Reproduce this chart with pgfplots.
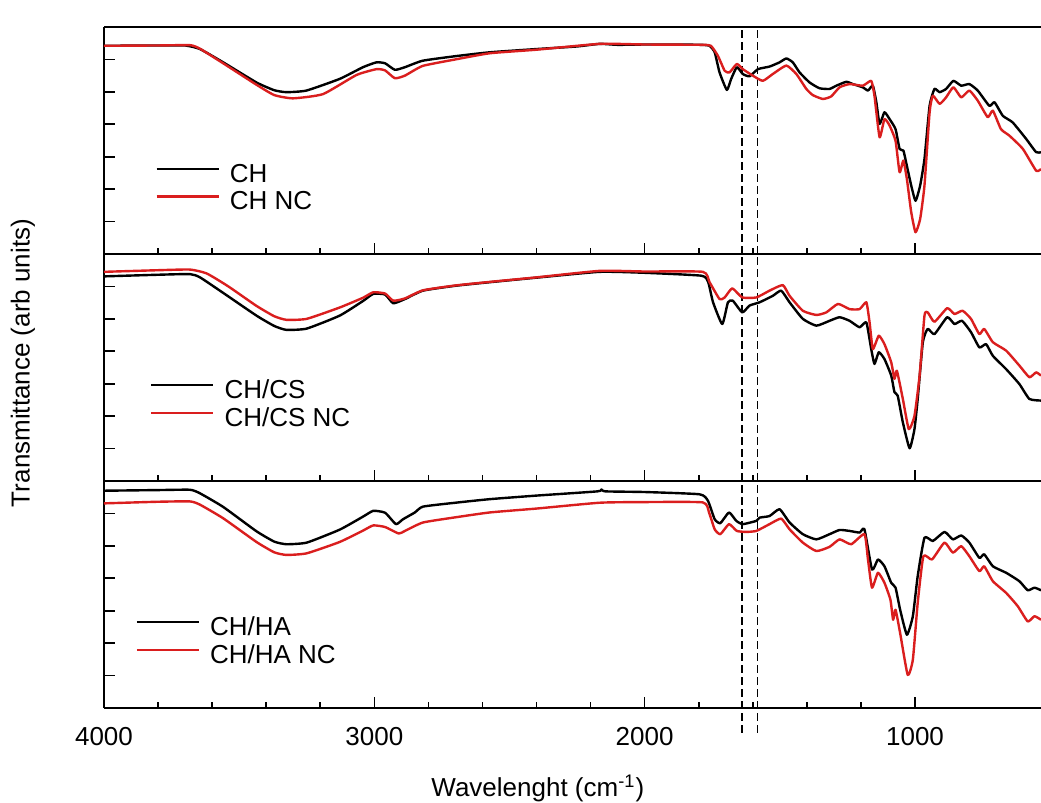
\documentclass[border=0pt]{standalone}
\usepackage{fontspec}
\setmainfont{Liberation Sans}
\usepackage{pgfplots}
\pgfplotsset{compat=1.18}
\definecolor{myred}{RGB}{218,30,30}
\newcommand{\fs}{\fontsize{13}{15.6}\selectfont}
\pgfplotsset{
  panel/.style={
    scale only axis, width=468.5pt, height=113.5pt,
    xmin=534, xmax=4000, x dir=reverse, ymin=0, ymax=7,
    axis y line*=left,
    y axis line style={-, line width=1pt},
    axis line style={line width=1pt},
    xtick={1000,2000,3000,4000}, minor x tick num=4,
    xtick pos=bottom, ytick pos=left,
    ytick={1,2,3,4,5,6}, yticklabels={},
    tick align=inside,
    major tick length=5.5pt, minor tick length=3pt,
    every tick/.style={black, line width=0.8pt},
    tick label style={font=\fs},
    /pgf/number format/assume math mode=true,
    /pgf/number format/set thousands separator={},
    every axis plot/.append style={line width=1.2pt, line join=round, smooth, tension=0.3},
    legend style={draw=none, fill=none, inner xsep=0pt, inner ysep=0pt,
      row sep=0pt, column sep=3.5pt, font=\fs,
      nodes={inner sep=1.5pt, text depth=0.15em},
      cells={anchor=west}, anchor=north west},
    legend image code/.code={\draw[##1, line width=1.2pt, sharp plot] (0pt,0.28em) -- (31pt,0.28em);},
  },
  vl/.style={black, sharp plot, dash pattern=on 4pt off 2pt, line width=0.9pt, forget plot},
}
\begin{document}
\begin{tikzpicture}
\path[use as bounding box] (0,0) rectangle (520.5pt,401.5pt);
% ---------- top panel: CH ----------
\begin{axis}[panel, at={(52pt,274.5pt)}, anchor=south west, xticklabels={},
  legend style={at={(axis description cs:0.0544,0.41)}}]
\addplot[vl] coordinates {(1639,0) (1639,7)};
\addplot[vl] coordinates {(1583,0) (1583,7)};
\addplot[black] coordinates {
(4000,6.42) (3800,6.43) (3700,6.43) (3645,6.32) (3559,5.91) (3436,5.29) (3370,5.05) (3325,4.99) (3251,5.04) (3128,5.40) (3042,5.76) (2992,5.91) (2960,5.88) (2924,5.68) (2887,5.76) (2821,5.96) (2700,6.10) (2573,6.22) (2400,6.32) (2250,6.40) (2166,6.48) (2100,6.45) (2000,6.46) (1900,6.46) (1790,6.45) (1760,6.42) (1741,6.22) (1723,5.60) (1696,5.06) (1680,5.40) (1659,5.76) (1637,5.55) (1612,5.48) (1581,5.70) (1538,5.78) (1501,5.91) (1476,6.03) (1452,5.91) (1427,5.60) (1390,5.29) (1353,5.11) (1316,5.09) (1291,5.19) (1254,5.31) (1230,5.24) (1193,5.14) (1174,5.04) (1156,5.19) (1143,4.68) (1131,4.01) (1113,4.37) (1094,4.16) (1072,3.85) (1057,3.24) (1043,3.19) (1033,2.83) (1014,2.11) (998,1.64) (981,2.11) (965,2.93) (946,4.57) (928,5.09) (909,4.99) (885,5.09) (858,5.34) (829,5.19) (799,5.24) (768,5.04) (725,4.57) (706,4.68) (675,4.26) (639,4.06) (589,3.55) (552,3.14) (534,3.14)};
\addlegendentry{CH}
\addplot[myred] coordinates {
(4000,6.42) (3800,6.43) (3682,6.44) (3645,6.33) (3559,5.88) (3436,5.22) (3370,4.90) (3301,4.80) (3190,4.93) (3066,5.52) (2992,5.70) (2960,5.66) (2924,5.42) (2887,5.50) (2821,5.80) (2700,6.00) (2573,6.19) (2400,6.30) (2166,6.48) (2000,6.46) (1790,6.45) (1755,6.42) (1729,6.11) (1704,5.65) (1686,5.60) (1659,5.86) (1637,5.70) (1600,5.50) (1563,5.34) (1526,5.55) (1476,5.81) (1439,5.55) (1402,5.09) (1378,4.90) (1341,4.78) (1310,4.86) (1279,5.14) (1242,5.24) (1193,5.19) (1162,5.34) (1150,4.88) (1131,3.60) (1113,4.16) (1094,3.96) (1072,3.49) (1057,2.52) (1043,2.88) (1030,2.31) (1014,1.29) (998,0.67) (981,1.08) (965,2.11) (946,4.37) (934,4.88) (909,4.63) (885,4.83) (858,5.14) (829,4.83) (799,5.04) (768,4.73) (731,4.22) (712,4.42) (682,3.85) (651,3.65) (601,3.24) (552,2.57) (534,2.62)};
\addlegendentry{CH NC}
\end{axis}
% ---------- middle panel: CH/CS ----------
\begin{axis}[panel, at={(52pt,161pt)}, anchor=south west, xticklabels={},
  legend style={at={(axis description cs:0.0488,0.461)}}]
\addplot[vl] coordinates {(1639,0) (1639,7)};
\addplot[vl] coordinates {(1583,0) (1583,7)};
\addplot[black] coordinates {
(4000,6.31) (3800,6.36) (3682,6.38) (3645,6.28) (3559,5.80) (3436,5.10) (3370,4.78) (3325,4.66) (3250,4.70) (3128,5.10) (3042,5.55) (3004,5.77) (2960,5.75) (2930,5.48) (2887,5.61) (2820,5.87) (2700,6.02) (2573,6.13) (2400,6.27) (2166,6.45) (2000,6.42) (1790,6.33) (1765,6.13) (1747,5.51) (1713,4.84) (1692,5.51) (1674,5.56) (1639,5.20) (1612,5.41) (1575,5.51) (1526,5.71) (1495,5.87) (1464,5.51) (1415,5.00) (1365,4.79) (1316,4.94) (1279,5.05) (1242,4.94) (1205,4.74) (1180,4.89) (1162,4.07) (1150,3.61) (1134,3.97) (1113,3.76) (1088,3.25) (1076,2.74) (1064,2.63) (1045,1.81) (1020,1.01) (1002,1.60) (990,2.53) (971,4.28) (953,4.69) (928,4.53) (881,5.05) (854,4.84) (826,4.94) (793,4.59) (762,4.12) (737,4.22) (712,3.86) (663,3.45) (614,2.99) (577,2.53) (534,2.48)};
\addlegendentry{CH/CS}
\addplot[myred] coordinates {
(4000,6.45) (3800,6.50) (3682,6.52) (3620,6.40) (3540,6.00) (3436,5.40) (3370,5.08) (3325,4.97) (3250,5.00) (3128,5.35) (3042,5.65) (3004,5.82) (2960,5.78) (2930,5.56) (2887,5.63) (2820,5.88) (2700,6.03) (2573,6.14) (2400,6.28) (2166,6.48) (2000,6.46) (1785,6.45) (1760,6.13) (1723,5.61) (1704,5.66) (1676,5.94) (1639,5.66) (1587,5.66) (1538,5.87) (1489,6.04) (1464,5.71) (1415,5.25) (1365,5.12) (1328,5.20) (1285,5.46) (1242,5.30) (1205,5.30) (1180,5.51) (1168,4.89) (1156,4.07) (1134,4.48) (1113,4.22) (1088,3.66) (1076,3.15) (1067,3.40) (1045,2.53) (1023,1.60) (1002,2.01) (983,3.25) (965,5.10) (953,5.20) (928,4.91) (881,5.33) (854,5.15) (824,5.25) (793,5.00) (762,4.53) (744,4.69) (712,4.28) (663,4.02) (614,3.56) (577,3.20) (552,3.35) (534,3.25)};
\addlegendentry{CH/CS NC}
\end{axis}
% ---------- bottom panel: CH/HA ----------
\begin{axis}[panel, at={(52pt,47.5pt)}, anchor=south west, clip=false,
  xticklabel style={anchor=base, yshift=-19pt},
  xlabel={Wavelenght (cm\textsuperscript{-1})},
  xlabel style={font=\fs, at={(axis description cs:0.463,0)}, anchor=base, yshift=-44.3pt},
  legend style={at={(axis description cs:0.0334,0.416)}}]
\addplot[vl] coordinates {(1639,-0.77) (1639,7)};
\addplot[vl] coordinates {(1583,-0.77) (1583,7)};
\addplot[black] coordinates {
(4000,6.70) (3800,6.72) (3682,6.73) (3645,6.62) (3559,6.20) (3436,5.45) (3370,5.13) (3325,5.05) (3250,5.10) (3128,5.50) (3042,5.90) (3004,6.08) (2960,6.02) (2920,5.67) (2894,5.82) (2850,6.03) (2820,6.21) (2700,6.33) (2573,6.44) (2400,6.55) (2175,6.68) (2160,6.74) (2145,6.68) (2000,6.66) (1797,6.59) (1766,6.39) (1741,5.82) (1720,5.70) (1688,6.03) (1661,5.77) (1637,5.67) (1587,5.77) (1575,5.87) (1538,5.92) (1501,6.13) (1464,5.72) (1415,5.36) (1365,5.20) (1316,5.36) (1279,5.49) (1242,5.46) (1205,5.41) (1187,5.51) (1159,4.27) (1137,4.58) (1113,4.37) (1088,3.86) (1072,3.71) (1055,3.03) (1030,2.26) (1008,2.83) (990,4.07) (965,5.25) (934,5.15) (891,5.43) (860,5.20) (829,5.32) (799,5.10) (762,4.63) (744,4.74) (712,4.37) (663,4.17) (614,3.91) (583,3.63) (558,3.71) (534,3.63)};
\addlegendentry{CH/HA}
\addplot[myred] coordinates {
(4000,6.31) (3800,6.36) (3682,6.37) (3645,6.27) (3559,5.85) (3436,5.12) (3370,4.80) (3325,4.72) (3250,4.77) (3128,5.12) (3042,5.47) (3004,5.63) (2960,5.58) (2910,5.38) (2887,5.46) (2820,5.72) (2700,5.88) (2573,6.03) (2400,6.15) (2166,6.33) (2000,6.35) (1785,6.34) (1762,6.03) (1741,5.51) (1720,5.36) (1688,5.67) (1659,5.46) (1624,5.43) (1587,5.46) (1538,5.67) (1495,5.84) (1464,5.51) (1415,5.10) (1365,4.84) (1316,4.97) (1279,5.20) (1236,5.05) (1187,5.36) (1174,4.58) (1159,3.71) (1137,4.17) (1113,3.86) (1091,3.34) (1081,2.72) (1072,3.03) (1055,2.31) (1027,1.02) (1008,1.49) (990,3.24) (969,4.68) (937,4.58) (891,5.10) (860,4.79) (829,4.99) (799,4.68) (762,4.22) (744,4.37) (712,3.91) (663,3.55) (620,3.14) (583,2.67) (558,2.83) (534,2.72)};
\addlegendentry{CH/HA NC}
\end{axis}
\node[rotate=90, font=\fs] at (11.5pt,220pt) {Transmittance (arb units)};
\end{tikzpicture}
\end{document}
